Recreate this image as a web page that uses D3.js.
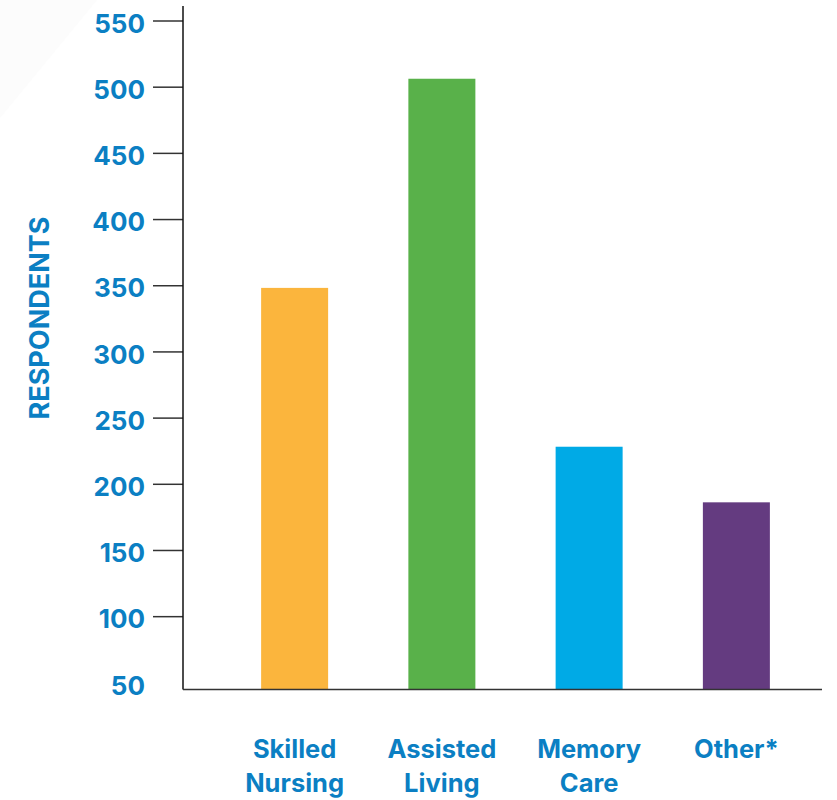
<!DOCTYPE html>
<html>
<head>
<meta charset="utf-8">
<title>Respondents by setting</title>
<script src="https://d3js.org/d3.v7.min.js"></script>
<style>
  body { margin: 0; background: #fff; }
  svg text { font-family: Inter, 'Noto Sans', sans-serif; font-weight: 700; fill: #0b7fc3; }
</style>
</head>
<body>
<svg id="chart" width="837" height="800"></svg>
<script>
// data
const categories = ['Skilled Nursing', 'Assisted Living', 'Memory Care', 'Other*'];
const labelLines = [['Skilled', 'Nursing'], ['Assisted', 'Living'], ['Memory', 'Care'], ['Other*']];
const respondents = [348, 506, 228, 186];
const barColors = ['#fbb53d', '#59b14a', '#00aae6', '#643b80'];
const yTicks = [50, 100, 150, 200, 250, 300, 350, 400, 450, 500, 550];

const svg = d3.select('#chart');

// faint background wedge in the top-left corner
svg.append('path')
    .attr('d', 'M0,0 L97,0 L0,118 Z')
    .attr('fill', '#fcfcfc');

const axisLeftX = 183, axisRightX = 822;

const x = d3.scaleBand()
    .domain(categories)
    .range([221, 810])
    .paddingInner(0.545)
    .paddingOuter(0.2725);

const y = d3.scaleLinear()
    .domain([44.6, 550])
    .range([689.5, 20.5]);

// bars
svg.append('g').selectAll('rect')
    .data(categories)
    .join('rect')
    .attr('x', d => x(d))
    .attr('width', x.bandwidth())
    .attr('y', (d, i) => y(respondents[i]))
    .attr('height', (d, i) => y.range()[0] - y(respondents[i]))
    .attr('fill', (d, i) => barColors[i]);

// y axis
const yAxis = svg.append('g')
    .attr('transform', `translate(${axisLeftX},0)`)
    .call(d3.axisLeft(y).tickValues(yTicks).tickSize(30).tickPadding(8));
yAxis.select('.domain').remove();
yAxis.selectAll('.tick line').attr('stroke', '#333').attr('stroke-width', 1.5)
    .attr('display', d => d === 50 ? 'none' : null);
yAxis.selectAll('.tick text')
    .attr('font-size', 26)
    .attr('dy', '0.45em')
    .attr('fill', '#0b7fc3')
    .attr('font-family', 'Inter, sans-serif');

svg.append('line')
    .attr('x1', axisLeftX).attr('x2', axisLeftX)
    .attr('y1', 6).attr('y2', y.range()[0])
    .attr('stroke', '#111').attr('stroke-width', 1.5);

svg.append('line')
    .attr('x1', axisLeftX).attr('x2', axisRightX)
    .attr('y1', y.range()[0]).attr('y2', y.range()[0])
    .attr('stroke', '#333').attr('stroke-width', 1.5);

// category labels
const labels = svg.append('g').selectAll('text')
    .data(categories)
    .join('text')
    .attr('text-anchor', 'middle')
    .attr('font-size', 25.5)
    .attr('x', d => x(d) + x.bandwidth() / 2)
    .attr('y', 758);
labels.selectAll('tspan')
    .data((d, i) => labelLines[i])
    .join('tspan')
    .attr('x', function() { return this.parentNode.getAttribute('x'); })
    .attr('dy', (d, i) => i === 0 ? 0 : 34)
    .text(d => d);

// y title
svg.append('text')
    .attr('transform', 'translate(49,318) rotate(-90)')
    .attr('text-anchor', 'middle')
    .attr('font-size', 27)
    .text('RESPONDENTS');
</script>
</body>
</html>
